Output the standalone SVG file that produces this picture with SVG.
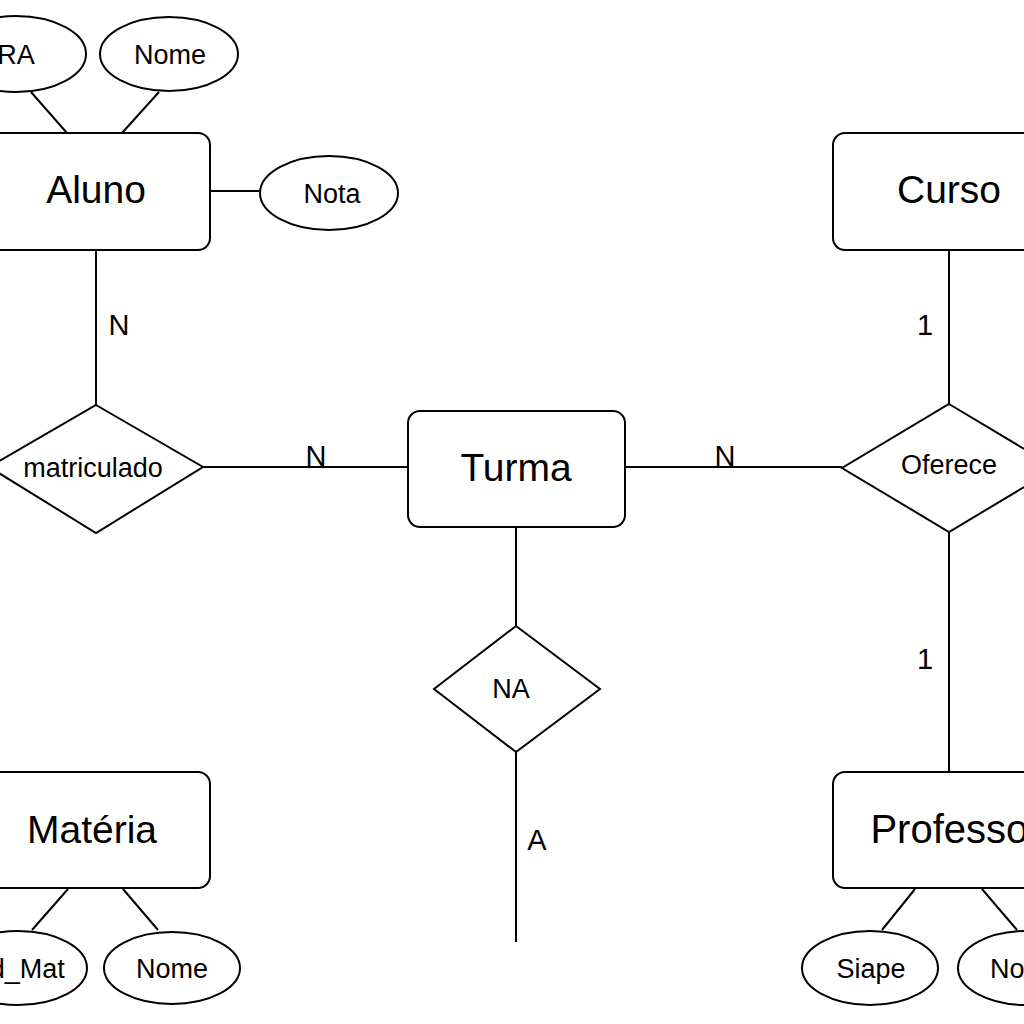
<svg xmlns="http://www.w3.org/2000/svg" width="1024" height="1024" viewBox="0 0 1024 1024">
<style>
.ent{fill:#fff;stroke:#000;stroke-width:2}
.rel{fill:#fff;stroke:#000;stroke-width:2}
.att{fill:#fff;stroke:#000;stroke-width:2}
.ln{stroke:#000;stroke-width:2;fill:none}
text{font-family:"Liberation Sans",Arial,sans-serif;fill:#000;text-anchor:middle}
.et{font-size:39px}
.st{font-size:27px}
.lb{font-size:29px}
</style>
<rect width="1024" height="1024" fill="#fff"/>
<g id="connectors">
<line class="ln" x1="31" y1="92" x2="67" y2="133"/>
<line class="ln" x1="159" y1="92" x2="122" y2="133"/>
<line class="ln" x1="210" y1="191" x2="260" y2="191"/>
<line class="ln" x1="96" y1="250" x2="96" y2="405"/>
<line class="ln" x1="203" y1="467" x2="408" y2="467"/>
<line class="ln" x1="625" y1="467" x2="842" y2="467"/>
<line class="ln" x1="949" y1="250" x2="949" y2="404"/>
<line class="ln" x1="949" y1="532" x2="949" y2="772"/>
<line class="ln" x1="516" y1="527" x2="516" y2="626"/>
<line class="ln" x1="516" y1="752" x2="516" y2="942"/>
<line class="ln" x1="68" y1="889" x2="32" y2="930"/>
<line class="ln" x1="123" y1="889" x2="158" y2="930"/>
<line class="ln" x1="915" y1="889" x2="882" y2="930"/>
<line class="ln" x1="982" y1="889" x2="1017" y2="930"/>
<text class="lb" x="119" y="335">N</text>
<text class="lb" x="316" y="466">N</text>
<text class="lb" x="725" y="466">N</text>
<text class="lb" x="925" y="335">1</text>
<text class="lb" x="925" y="669">1</text>
<text class="lb" x="537" y="850">A</text>
</g>
<g id="RA"><ellipse class="att" cx="16" cy="54" rx="70" ry="38"/><text class="st" x="16" y="64">RA</text></g>
<g id="NomeAluno"><ellipse class="att" cx="169" cy="54" rx="69" ry="37"/><text class="st" x="170" y="64">Nome</text></g>
<g id="Nota"><ellipse class="att" cx="329" cy="193" rx="69" ry="37"/><text class="st" x="332" y="203">Nota</text></g>
<g id="Aluno"><rect class="ent" x="-20" y="133" width="230" height="117" rx="12"/><text class="et" x="96" y="203">Aluno</text></g>
<g id="matriculado"><polygon class="rel" points="96,405 203,467 96,533 -11,467"/><text class="st" x="93" y="477">matriculado</text></g>
<g id="Turma"><rect class="ent" x="408" y="411" width="217" height="116" rx="12"/><text class="et" x="516" y="481">Turma</text></g>
<g id="Oferece"><polygon class="rel" points="949,404 1056,468 949,532 842,468"/><text class="st" x="949" y="474">Oferece</text></g>
<g id="Curso"><rect class="ent" x="833" y="133" width="232" height="117" rx="12"/><text class="et" x="949" y="203">Curso</text></g>
<g id="NA"><polygon class="rel" points="516,626 600,689 516,752 434,689"/><text class="st" x="511" y="698">NA</text></g>
<g id="Materia"><rect class="ent" x="-20" y="772" width="230" height="116" rx="12"/><text class="et" x="92" y="843">Matéria</text></g>
<g id="CodMat"><ellipse class="att" cx="18" cy="968" rx="69" ry="37"/><text class="st" x="10" y="978">Cod_Mat</text></g>
<g id="NomeMateria"><ellipse class="att" cx="172" cy="968" rx="68" ry="36"/><text class="st" x="172" y="978">Nome</text></g>
<g id="Professor"><rect class="ent" x="833" y="772" width="232" height="116" rx="12"/><text class="et" x="956" y="843" style="font-size:40px">Professor</text></g>
<g id="Siape"><ellipse class="att" cx="870" cy="968" rx="68" ry="37"/><text class="st" x="871" y="978">Siape</text></g>
<g id="NomeProf"><ellipse class="att" cx="1026" cy="968" rx="68" ry="37"/><text class="st" x="1026" y="978">Nome</text></g>
</svg>
